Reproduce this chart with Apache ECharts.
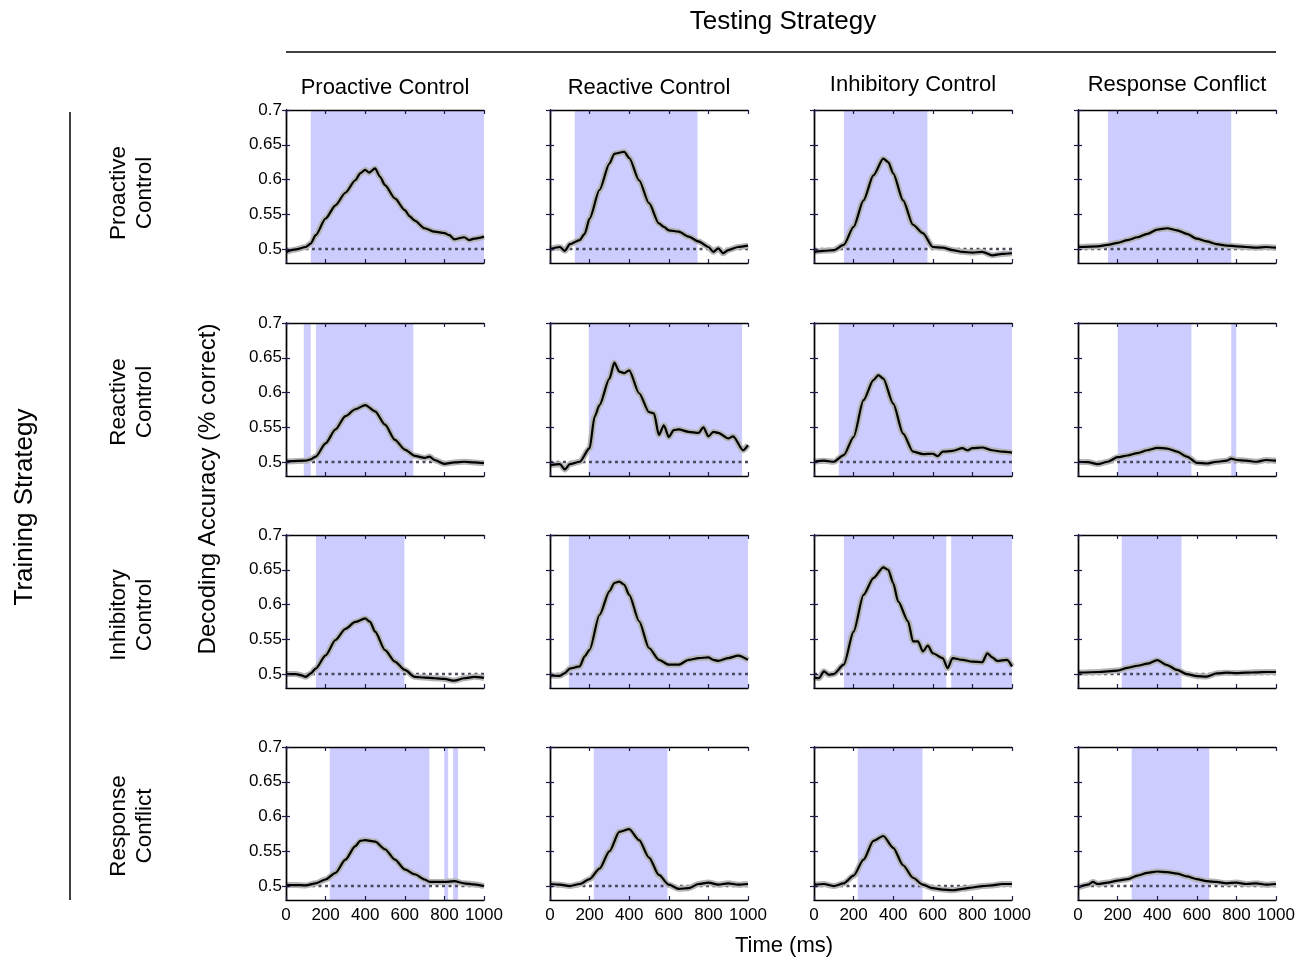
<!DOCTYPE html>
<html>
<head>
<meta charset="utf-8">
<script src="https://cdn.jsdelivr.net/npm/echarts@6/dist/echarts.min.js"></script>
<style>
html,body{margin:0;padding:0;background:#fff;}
#chart{width:1311px;height:958px;}
</style>
</head>
<body>
<div id="chart"></div>
<script>
// ---------- tick labels & names ----------
const xTicks = [0, 200, 400, 600, 800, 1000];
const yTicks = [0.5, 0.55, 0.6, 0.65, 0.7];
const testNames = ['Proactive Control', 'Reactive Control', 'Inhibitory Control', 'Response Conflict'];
const trainNames = ['Proactive\nControl', 'Reactive\nControl', 'Inhibitory\nControl', 'Response\nConflict'];
const chanceLevel = 0.5;

// ---------- decoding accuracy [time ms, accuracy] (train -> test) ----------
const accPP = [[0,0.496],[50,0.4995],[100,0.503],[125,0.508],[150,0.52],[200,0.544],[250,0.563],[300,0.581],[350,0.599],[375,0.609],[400,0.614],[420,0.61],[450,0.616],[475,0.604],[500,0.592],[550,0.573],[600,0.556],[625,0.547],[650,0.541],[700,0.53],[750,0.525],[800,0.523],[825,0.52],[850,0.514],[900,0.517],[925,0.513],[950,0.515],[1000,0.518]];
const accPR = [[0,0.5],[50,0.503],[75,0.4975],[100,0.507],[150,0.513],[175,0.522],[200,0.544],[250,0.585],[300,0.623],[325,0.637],[375,0.64],[400,0.631],[450,0.599],[500,0.566],[550,0.537],[575,0.532],[600,0.527],[650,0.525],[700,0.518],[750,0.511],[800,0.503],[825,0.496],[850,0.501],[875,0.494],[900,0.4985],[950,0.503],[1000,0.505]];
const accPI = [[0,0.496],[50,0.4975],[100,0.4985],[150,0.506],[200,0.532],[250,0.57],[300,0.606],[350,0.63],[375,0.625],[400,0.609],[450,0.57],[500,0.535],[550,0.523],[600,0.503],[650,0.502],[700,0.4985],[750,0.496],[800,0.495],[850,0.496],[900,0.491],[950,0.493],[1000,0.494]];
const accPC = [[0,0.503],[100,0.504],[150,0.506],[200,0.509],[250,0.513],[300,0.517],[350,0.522],[400,0.528],[450,0.53],[500,0.527],[550,0.522],[600,0.515],[650,0.511],[700,0.507],[750,0.505],[800,0.504],[850,0.503],[900,0.502],[950,0.503],[1000,0.502]];

const accRP = [[0,0.501],[100,0.502],[125,0.504],[150,0.508],[200,0.527],[250,0.547],[300,0.566],[350,0.576],[400,0.582],[450,0.573],[500,0.554],[550,0.532],[600,0.518],[650,0.509],[700,0.506],[725,0.508],[750,0.503],[800,0.4975],[850,0.4995],[900,0.5005],[950,0.4995],[1000,0.4985]];
const accRR = [[0,0.4955],[50,0.497],[75,0.4895],[100,0.497],[150,0.5005],[200,0.52],[225,0.565],[250,0.582],[300,0.62],[325,0.643],[350,0.63],[375,0.628],[400,0.632],[450,0.599],[500,0.572],[525,0.57],[550,0.539],[575,0.553],[600,0.536],[625,0.546],[650,0.547],[700,0.5435],[750,0.542],[775,0.55],[800,0.537],[825,0.5435],[850,0.542],[900,0.534],[925,0.537],[975,0.517],[1000,0.5245]];
const accRI = [[0,0.5005],[50,0.502],[100,0.5005],[150,0.51],[200,0.536],[250,0.589],[300,0.618],[325,0.625],[350,0.62],[400,0.584],[450,0.541],[500,0.515],[550,0.5115],[600,0.512],[625,0.5085],[650,0.515],[700,0.516],[750,0.52],[775,0.517],[800,0.52],[850,0.521],[900,0.517],[950,0.515],[1000,0.5135]];
const accRC = [[0,0.5005],[50,0.5],[100,0.497],[150,0.5005],[200,0.507],[250,0.5095],[300,0.513],[350,0.517],[400,0.5205],[450,0.5195],[500,0.515],[550,0.508],[600,0.499],[650,0.498],[700,0.5005],[750,0.502],[775,0.505],[800,0.503],[850,0.502],[900,0.5005],[950,0.503],[1000,0.502]];

const accIP = [[0,0.5],[50,0.5],[75,0.4985],[100,0.496],[125,0.501],[150,0.508],[200,0.527],[250,0.549],[300,0.565],[350,0.575],[400,0.58],[425,0.575],[450,0.561],[500,0.5345],[550,0.518],[600,0.506],[650,0.496],[700,0.495],[750,0.494],[800,0.493],[850,0.4905],[900,0.494],[950,0.496],[1000,0.4945]];
const accIR = [[0,0.498],[50,0.4975],[75,0.5015],[100,0.508],[150,0.511],[175,0.5255],[200,0.535],[250,0.585],[300,0.619],[325,0.631],[350,0.633],[375,0.6285],[400,0.614],[450,0.576],[500,0.5375],[550,0.5205],[600,0.5135],[650,0.5135],[700,0.5205],[750,0.523],[800,0.524],[825,0.5205],[850,0.519],[900,0.523],[950,0.5265],[1000,0.5205]];
const accII = [[0,0.495],[25,0.494],[50,0.504],[75,0.499],[100,0.5],[150,0.5135],[200,0.561],[250,0.614],[300,0.638],[350,0.6535],[375,0.65],[400,0.631],[425,0.6045],[475,0.576],[500,0.547],[525,0.547],[550,0.5325],[575,0.541],[600,0.53],[650,0.523],[675,0.5085],[700,0.523],[750,0.5205],[800,0.518],[850,0.517],[875,0.53],[900,0.524],[925,0.519],[975,0.5205],[1000,0.511]];
const accIC = [[0,0.502],[100,0.503],[200,0.505],[250,0.509],[300,0.512],[350,0.515],[400,0.52],[450,0.513],[500,0.506],[550,0.5],[600,0.497],[650,0.4965],[700,0.501],[750,0.502],[800,0.5015],[850,0.502],[900,0.5025],[950,0.503],[1000,0.503]];

const accCP = [[0,0.5015],[50,0.5015],[100,0.501],[150,0.504],[200,0.5095],[250,0.519],[300,0.538],[350,0.5575],[375,0.565],[400,0.566],[450,0.564],[500,0.553],[550,0.538],[600,0.524],[650,0.517],[700,0.5095],[725,0.506],[750,0.506],[800,0.506],[850,0.507],[900,0.504],[950,0.5025],[1000,0.5]];
const accCR = [[0,0.503],[50,0.502],[100,0.5],[150,0.503],[200,0.51],[250,0.525],[300,0.55],[350,0.578],[400,0.582],[450,0.566],[500,0.541],[550,0.516],[600,0.502],[650,0.496],[700,0.497],[750,0.503],[800,0.505],[850,0.502],[900,0.504],[950,0.502],[1000,0.503]];
const accCI = [[0,0.502],[50,0.503],[100,0.5],[150,0.504],[200,0.515],[250,0.538],[300,0.565],[350,0.572],[400,0.555],[450,0.53],[500,0.512],[550,0.502],[600,0.497],[650,0.495],[700,0.494],[750,0.496],[800,0.498],[850,0.5],[900,0.501],[950,0.503],[1000,0.503]];
const accCC = [[0,0.498],[50,0.502],[75,0.506],[100,0.503],[150,0.505],[200,0.508],[250,0.51],[300,0.515],[350,0.519],[400,0.521],[450,0.52],[500,0.518],[550,0.514],[600,0.51],[650,0.507],[700,0.506],[750,0.504],[800,0.505],[850,0.503],[900,0.504],[950,0.502],[1000,0.503]];

// ---------- significant time windows [start ms, end ms] ----------
const sigPP = [[125,1000]];
const sigPR = [[125,745]];
const sigPI = [[151,573]];
const sigPC = [[151,774]];
const sigRP = [[90,125],[151,643]];
const sigRR = [[196,970]];
const sigRI = [[125,1000]];
const sigRC = [[201,573],[774,799]];
const sigIP = [[151,598]];
const sigIR = [[95,1000]];
const sigII = [[151,668],[693,1000]];
const sigIC = [[221,523]];
const sigCP = [[221,724],[799,819],[844,869]];
const sigCR = [[221,593]];
const sigCI = [[221,548]];
const sigCC = [[271,663]];

const accGrid = [[accPP,accPR,accPI,accPC],[accRP,accRR,accRI,accRC],[accIP,accIR,accII,accIC],[accCP,accCR,accCI,accCC]];
const sigGrid = [[sigPP,sigPR,sigPI,sigPC],[sigRP,sigRR,sigRI,sigRC],[sigIP,sigIR,sigII,sigIC],[sigCP,sigCR,sigCI,sigCC]];

// ---------- layout ----------
const colLeft = [286, 550, 814, 1078];
const rowTop = [110, 323, 535, 747];
const rowLabelY = [193, 402, 615, 826];
const panelW = 198, panelH = 153;
const FONT = 'Liberation Sans, Arial, Helvetica, sans-serif';

const grids = [], xAxes = [], yAxes = [], series = [];
for (let r = 0; r < 4; r++) {
  for (let c = 0; c < 4; c++) {
    const gi = r * 4 + c;
    grids.push({left: colLeft[c], top: rowTop[r], width: panelW, height: panelH, show: false});
    const tickStyle = {inside: true, length: 4, lineStyle: {color: '#1b1b4a', width: 1.2}};
    const lineStyle = {show: true, lineStyle: {color: '#000', width: 1.4}};
    xAxes.push({gridIndex: gi, type: 'value', min: 0, max: 1000, interval: 200, position: 'bottom', z: 10,
      axisLine: lineStyle, axisTick: tickStyle, splitLine: {show: false},
      axisLabel: {show: r === 3, color: '#000', fontSize: 17, fontFamily: FONT, margin: 7,
        customValues: xTicks, formatter: v => String(v)}});
    xAxes.push({gridIndex: gi, type: 'value', min: 0, max: 1000, interval: 200, position: 'top', z: 10,
      axisLine: lineStyle, axisTick: tickStyle, splitLine: {show: false}, axisLabel: {show: false}});
    yAxes.push({gridIndex: gi, type: 'value', min: 0.48, max: 0.7, position: 'left', z: 10,
      axisLine: lineStyle, axisTick: Object.assign({customValues: yTicks}, tickStyle), splitLine: {show: false},
      axisLabel: {show: c === 0, color: '#000', fontSize: 17, fontFamily: FONT, margin: 4,
        customValues: yTicks, formatter: v => String(v)}});
    yAxes.push({gridIndex: gi, type: 'value', min: 0.48, max: 0.7, position: 'right', z: 10,
      axisLine: lineStyle, axisTick: Object.assign({customValues: yTicks}, tickStyle), splitLine: {show: false},
      axisLabel: {show: false}});
    const xi = gi * 2, yi = gi * 2;
    // significance shading
    series.push({type: 'line', xAxisIndex: xi, yAxisIndex: yi, z: 1, silent: true, symbol: 'none',
      data: [[0, chanceLevel]], lineStyle: {opacity: 0},
      markArea: {silent: true, itemStyle: {color: '#ccccff', opacity: 1},
        data: sigGrid[r][c].map(s => [{xAxis: s[0]}, {xAxis: s[1]}])}});
    // chance level
    series.push({type: 'line', xAxisIndex: xi, yAxisIndex: yi, z: 2, silent: true, symbol: 'none',
      data: [[0, chanceLevel], [1000, chanceLevel]],
      lineStyle: {color: '#4a4a5a', width: 2.5, type: [3, 3.5], cap: 'butt'}});
    // error band
    series.push({type: 'line', xAxisIndex: xi, yAxisIndex: yi, z: 3, silent: true, symbol: 'none',
      smooth: 0.25, smoothMonotone: 'x',
      data: accGrid[r][c], lineStyle: {color: '#b4b4b4', width: 6, join: 'round'}});
    // mean
    series.push({type: 'line', xAxisIndex: xi, yAxisIndex: yi, z: 4, silent: true, symbol: 'none',
      smooth: 0.25, smoothMonotone: 'x',
      data: accGrid[r][c], lineStyle: {color: '#000', width: 2.2, join: 'round'}});
  }
}

const graphics = [];
const txt = (x, y, text, size, rot, lh) => ({type: 'text', x: x, y: y, rotation: rot || 0, z: 100,
  style: {text: text, font: size + 'px ' + FONT, fill: '#000', textAlign: 'center', textVerticalAlign: 'middle',
    align: 'center', verticalAlign: 'middle', lineHeight: lh || size * 1.2}});
graphics.push(txt(783, 22, 'Testing Strategy', 26));
graphics.push({type: 'line', z: 100, shape: {x1: 286, y1: 52, x2: 1276, y2: 52}, style: {stroke: '#000', lineWidth: 1.5}});
const colTitleY = [88, 88, 85, 85];
testNames.forEach((n, c) => graphics.push(txt(colLeft[c] + panelW / 2, colTitleY[c], n, 22)));
graphics.push(txt(25, 507, 'Training Strategy', 26, Math.PI / 2));
graphics.push({type: 'line', z: 100, shape: {x1: 70, y1: 112, x2: 70, y2: 900}, style: {stroke: '#000', lineWidth: 1.5}});
trainNames.forEach((n, r) => graphics.push(txt(132, rowLabelY[r], n, 22.5, Math.PI / 2, 26)));
graphics.push(txt(208, 489, 'Decoding Accuracy (% correct)', 24, Math.PI / 2));
graphics.push(txt(784, 946, 'Time (ms)', 22));

const chart = echarts.init(document.getElementById('chart'), null, {renderer: 'canvas'});
chart.setOption({
  animation: false,
  backgroundColor: '#fff',
  grid: grids, xAxis: xAxes, yAxis: yAxes, series: series,
  graphic: graphics
});
</script>
</body>
</html>
